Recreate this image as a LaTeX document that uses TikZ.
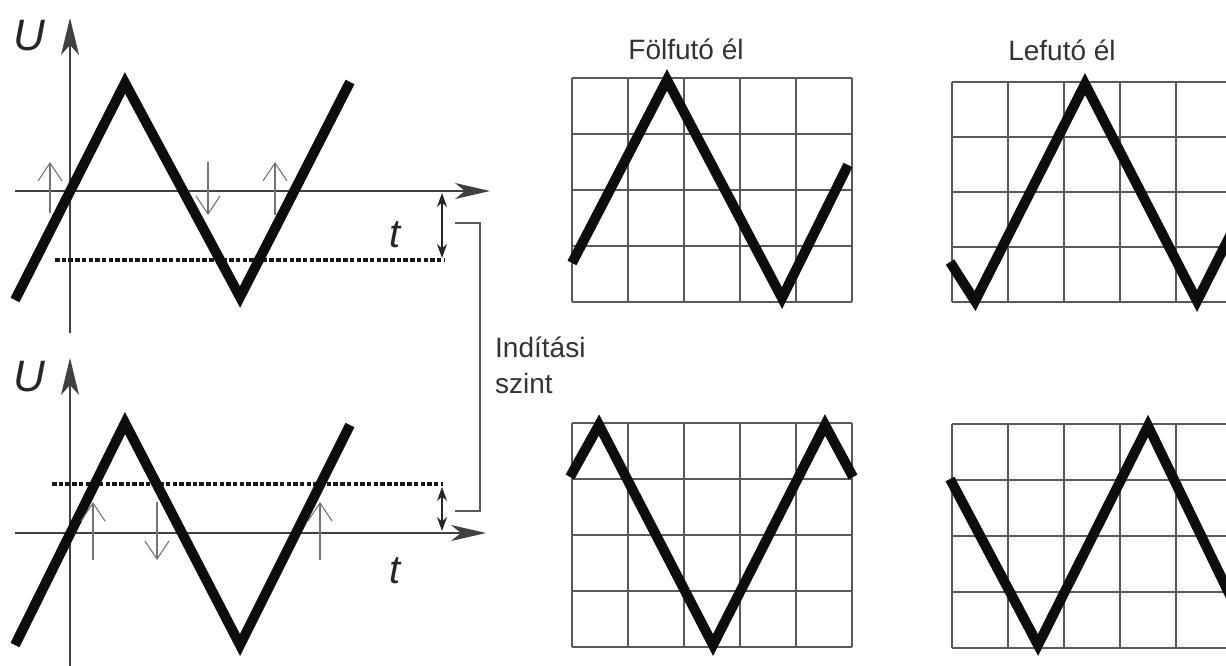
\documentclass[tikz,border=0pt]{standalone}
\usepackage{fontspec}
\setmainfont{Liberation Sans}
\usetikzlibrary{arrows.meta}
\tikzset{
  wave/.style={line width=10pt, line join=miter, draw=black!95},
  axis/.style={line width=1.2pt, draw=black!75, -{Stealth[length=35pt,width=16pt,inset=10pt]}},
  yaxis/.style={line width=1.2pt, draw=black!75, -{Stealth[length=37pt,width=18pt,inset=10pt]}},
  level/.style={line width=4.5pt, draw=black!90, dash pattern=on 4.5pt off 2.2pt},
  levelarrow/.style={line width=1.1pt, draw=black!85, {Stealth[length=14pt,width=10pt]}-{Stealth[length=14pt,width=10pt]}},
  edgearrow/.style={line width=1.1pt, draw=black!55, -{Straight Barb[length=18pt,width=24pt]}},
  bracket/.style={line width=1.2pt, draw=black!65},
  gridline/.style={line width=1.4pt, draw=black!65},
  axlabel/.style={font=\fontsize{44}{44}\selectfont\itshape, text=black!85, inner sep=0pt},
  tlabel/.style={font=\fontsize{40}{40}\selectfont\itshape, text=black!85, inner sep=0pt},
  caption/.style={font=\fontsize{28}{28}\selectfont, text=black!80, inner sep=0pt}
}
\begin{document}
\begin{tikzpicture}[x=1pt,y=-1pt]
\fill[white] (0,0) rectangle (1226,666);
\useasboundingbox (0,0) rectangle (1226,666);

% ---------- top graph ----------
\coordinate (yA1) at (70,333); \coordinate (yB1) at (70,18);
\coordinate (xA1) at (15,191); \coordinate (xB1) at (490,191);
\draw[yaxis] (yA1) -- (yB1);
\draw[axis] (xA1) -- (xB1);
\node[axlabel] (U1) at (29,36) {U};
\node[tlabel] (t1) at (395,235) {t};
\coordinate (lvA1) at (55,260); \coordinate (lvB1) at (445,260);
\draw[level] (lvA1) -- (lvB1);
\coordinate (laT1) at (442,193); \coordinate (laB1) at (442,258);
\draw[levelarrow] (laT1) -- (laB1);
\draw[wave] (15,300) -- (125,83) -- (240,297) -- (350,82);
\coordinate (e1a) at (50,213); \coordinate (e1b) at (50,162);
\coordinate (e2a) at (208,162); \coordinate (e2b) at (208,215);
\coordinate (e3a) at (275,215); \coordinate (e3b) at (275,162);
\draw[edgearrow] (e1a) -- (e1b);
\draw[edgearrow] (e2a) -- (e2b);
\draw[edgearrow] (e3a) -- (e3b);

% ---------- bottom graph ----------
\coordinate (yA2) at (70,666); \coordinate (yB2) at (70,358);
\coordinate (xA2) at (15,533); \coordinate (xB2) at (486,533);
\draw[yaxis] (yA2) -- (yB2);
\draw[axis] (xA2) -- (xB2);
\node[axlabel] (U2) at (29,377) {U};
\node[tlabel] (t2) at (395,571) {t};
\coordinate (lvA2) at (52,484); \coordinate (lvB2) at (443,484);
\draw[level] (lvA2) -- (lvB2);
\coordinate (laT2) at (442,487); \coordinate (laB2) at (442,531);
\draw[levelarrow] (laT2) -- (laB2);
\draw[wave] (15,645) -- (125,423) -- (240,645) -- (350,425);
\coordinate (f1a) at (93,560); \coordinate (f1b) at (93,502);
\coordinate (f2a) at (157,502); \coordinate (f2b) at (157,560);
\coordinate (f3a) at (320,560); \coordinate (f3b) at (320,502);
\draw[edgearrow] (f1a) -- (f1b);
\draw[edgearrow] (f2a) -- (f2b);
\draw[edgearrow] (f3a) -- (f3b);

% ---------- bracket and label ----------
\coordinate (brT) at (455,223); \coordinate (brB) at (455,511);
\draw[bracket] (brT) -- (480,223) -- (480,511) -- (brB);
\node[caption, anchor=base west] (ind1) at (495,357) {Indítási};
\node[caption, anchor=base west] (ind2) at (495,393) {szint};

% ---------- captions ----------
\node[caption, anchor=base] (cap1) at (686,60) {Fölfutó él};
\node[caption, anchor=base] (cap2) at (1062,61) {Lefutó él};

% ---------- screens ----------
\begin{scope}
\clip (0,0) rectangle (1226,666);
% top-left
\foreach \x in {572,628,684,740,796,852} \draw[gridline] (\x,78) -- (\x,302);
\foreach \y in {78,134,190,246,302} \draw[gridline] (572,\y) -- (852,\y);
\draw[wave] (572,263) -- (667,80) -- (782,298) -- (848,165);
% top-right
\foreach \x in {952,1008,1064,1120,1176,1232} \draw[gridline] (\x,82) -- (\x,302);
\foreach \y in {82,137,192,247,302} \draw[gridline] (952,\y) -- (1232,\y);
\draw[wave] (950,262) -- (975,301) -- (1085,84) -- (1197,301) -- (1240,216);
% bottom-left
\foreach \x in {572,628,684,740,796,852} \draw[gridline] (\x,423) -- (\x,647);
\foreach \y in {423,479,535,591,647} \draw[gridline] (572,\y) -- (852,\y);
\draw[wave] (570,477) -- (599,425) -- (713,645) -- (825,425) -- (853,477);
% bottom-right
\foreach \x in {952,1008,1064,1120,1176,1232} \draw[gridline] (\x,424) -- (\x,648);
\foreach \y in {424,480,536,592,648} \draw[gridline] (952,\y) -- (1232,\y);
\draw[wave] (950,479) -- (1038,645) -- (1148,426) -- (1240,616);
\end{scope}
\end{tikzpicture}
\end{document}
